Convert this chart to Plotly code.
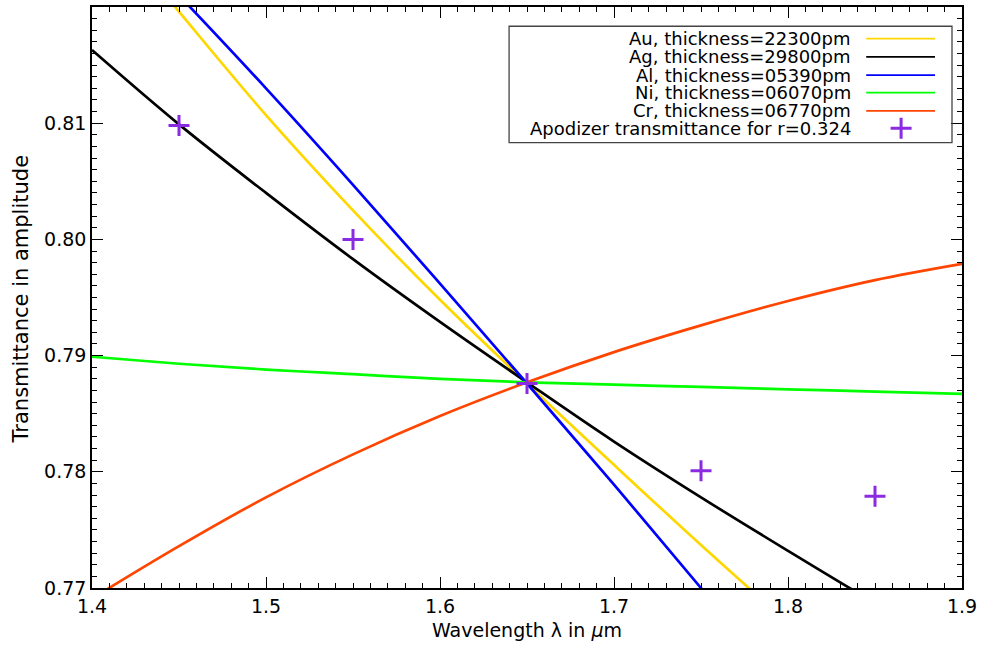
import plotly.graph_objects as go

wavelength = [1.40, 1.45, 1.50, 1.55, 1.60, 1.65, 1.70, 1.75, 1.80, 1.85, 1.90]
au = [0.8287, 0.8196, 0.8107, 0.8025, 0.7948, 0.7876, 0.7806, 0.7737, 0.7670, 0.7604, 0.7539]
ag = [0.8163, 0.8099, 0.8040, 0.7983, 0.7929, 0.7877, 0.7826, 0.7778, 0.7732, 0.7687, 0.7644]
al = [0.8288, 0.8210, 0.8130, 0.8047, 0.7962, 0.7876, 0.7789, 0.7700, 0.7609, 0.7516, 0.7421]
ni = [0.7899, 0.7893, 0.7888, 0.7884, 0.7880, 0.7877, 0.7875, 0.7873, 0.7871, 0.7869, 0.7867]
cr = [0.7691, 0.7736, 0.7778, 0.7815, 0.7848, 0.7877, 0.7903, 0.7926, 0.7947, 0.7965, 0.7979]

apod_x = [1.45, 1.55, 1.65, 1.75, 1.85]
apod_y = [0.8098, 0.8000, 0.7876, 0.7801, 0.7779]

labels = [
    "Au, thickness=22300pm",
    "Ag, thickness=29800pm",
    "Al, thickness=05390pm",
    "Ni, thickness=06070pm",
    "Cr, thickness=06770pm",
    "Apodizer transmittance for r=0.324",
]
series = [au, ag, al, ni, cr]
colors = ["#FFD700", "#000000", "#0000FF", "#00FF00", "#FF4500"]
apod_color = "#8A2BE2"

FONT = "DejaVu Sans"
fig = go.Figure()

for ys, c in zip(series, colors):
    fig.add_trace(go.Scatter(x=wavelength, y=ys, mode="lines",
                             line=dict(color=c, width=2.7, shape="spline"),
                             showlegend=False))

fig.add_trace(go.Scatter(x=apod_x, y=apod_y, mode="markers",
                         marker=dict(symbol="cross-thin", size=15,
                                     line=dict(color=apod_color, width=3),
                                     color=apod_color),
                         showlegend=False))

# custom legend (text on the left, sample on the right) on an overlay unit axis
row_y = [0.9456, 0.9142, 0.8828, 0.8525, 0.8211, 0.7913]
x0, x1 = 0.8899, 0.9690
for i, c in enumerate(colors):
    fig.add_trace(go.Scatter(x=[x0, x1], y=[row_y[i], row_y[i]], mode="lines",
                             line=dict(color=c, width=1.8), xaxis="x2", yaxis="y2",
                             showlegend=False, hoverinfo="skip"))
fig.add_trace(go.Scatter(x=[0.930], y=[row_y[5]], mode="markers",
                         marker=dict(symbol="cross-thin", size=15,
                                     line=dict(color=apod_color, width=3)),
                         xaxis="x2", yaxis="y2", showlegend=False, hoverinfo="skip"))
for i, t in enumerate(labels):
    fig.add_annotation(x=0.875, y=row_y[i], xref="x2", yref="y2", text=t,
                       showarrow=False, xanchor="right", yanchor="middle",
                       font=dict(family=FONT, size=18, color="black"))
fig.add_shape(type="rect", xref="x2", yref="y2", x0=0.4794, x1=0.9885,
              y0=0.7667, y1=0.9669, line=dict(color="#444444", width=1.3),
              fillcolor="rgba(0,0,0,0)")

# y-axis title placed as a rotated annotation
fig.add_annotation(x=-0.0814, y=0.497, xref="paper", yref="paper",
                   text="Transmittance in amplitude", textangle=-90,
                   showarrow=False, xanchor="center", yanchor="middle",
                   font=dict(family=FONT, size=21, color="black"))

axis_common = dict(showline=True, linecolor="black", linewidth=1.6, mirror="ticks",
                   ticks="inside", tickcolor="black", ticklen=11, tickwidth=1.4,
                   showgrid=False, zeroline=False,
                   tickfont=dict(family=FONT, size=19, color="black"))

fig.update_layout(
    width=982, height=647,
    margin=dict(l=92, r=18, t=5, b=59),
    paper_bgcolor="white", plot_bgcolor="white",
    showlegend=False,
    xaxis=dict(range=[1.4, 1.9], dtick=0.1, tickformat=".1f",
               minor=dict(dtick=0.01, ticks="inside", ticklen=5, tickcolor="black", tickwidth=1.2),
               title=dict(text="Wavelength λ in <i>µ</i>m", font=dict(family=FONT, size=19, color="black"),
                          standoff=8),
               **axis_common),
    yaxis=dict(range=[0.77, 0.82], dtick=0.01, tickformat=".2f",
               minor=dict(dtick=0.001, ticks="inside", ticklen=5, tickcolor="black", tickwidth=1.2),
               **axis_common),
    xaxis2=dict(range=[0, 1], overlaying="x", visible=False, fixedrange=True),
    yaxis2=dict(range=[0, 1], overlaying="y", visible=False, fixedrange=True),
)

fig.write_html("out.html", config={"displayModeBar": False},
               post_script="document.body.style.margin='0px';")
